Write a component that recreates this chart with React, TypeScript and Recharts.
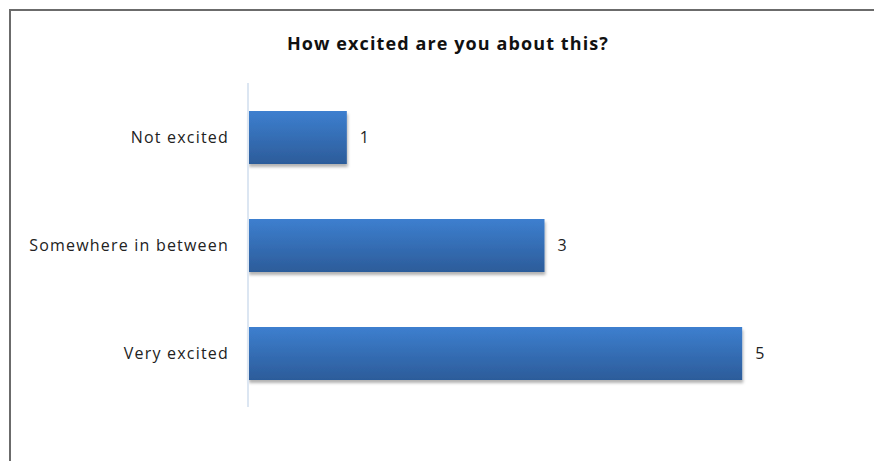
import React from "react";
import { BarChart, Bar, XAxis, YAxis, LabelList } from "recharts";

const categories = ["Not excited", "Somewhere in between", "Very excited"];
const counts = [1, 3, 5];

const data = categories.map((name, i) => ({ name, count: counts[i] }));

const FONT = "'Open Sans', 'DejaVu Sans', sans-serif";

export default function App() {
  return (
    <div
      style={{
        position: "fixed",
        left: 0,
        top: 0,
        width: 874,
        height: 461,
        overflow: "hidden",
        background: "#fff",
        fontFamily: FONT,
      }}
    >
      {/* outer frame, only top and left edges are visible */}
      <div
        style={{
          position: "absolute",
          left: 9,
          top: 9,
          width: 900,
          height: 500,
          borderLeft: "2px solid #6b6b6b",
          borderTop: "2px solid #6b6b6b",
        }}
      />
      <div
        style={{
          position: "absolute",
          left: 0,
          top: 31,
          width: 896,
          textAlign: "center",
          fontWeight: 700,
          fontSize: 18,
          letterSpacing: 1.1,
          color: "#111",
        }}
      >
        How excited are you about this?
      </div>
      <div style={{ position: "absolute", left: 0, top: 0 }}>
        <BarChart
          width={874}
          height={461}
          data={data}
          layout="vertical"
          margin={{ top: 83, right: 33, bottom: 54, left: 0 }}
        >
          <defs>
            <linearGradient id="barGrad" x1="0" y1="0" x2="0" y2="1">
              <stop offset="0%" stopColor="#3d7fcf" />
              <stop offset="100%" stopColor="#2c5c9a" />
            </linearGradient>
            <filter id="barShadow" x="-5%" y="-20%" width="115%" height="160%">
              <feDropShadow dx="1" dy="3" stdDeviation="1.5" floodColor="#000" floodOpacity="0.3" />
            </filter>
          </defs>
          <XAxis type="number" domain={[0, 6]} hide />
          <YAxis
            type="category"
            dataKey="name"
            width={248}
            axisLine={{ stroke: "#dce6f2", strokeWidth: 2 }}
            tickLine={false}
            tickMargin={13}
            tick={{ fill: "#222", fontSize: 16, letterSpacing: 1.2, fontFamily: FONT }}
          />
          <Bar
            dataKey="count"
            barSize={53}
            fill="url(#barGrad)"
            filter="url(#barShadow)"
            isAnimationActive={false}
          >
            <LabelList
              dataKey="count"
              position="right"
              offset={13}
              style={{ fill: "#222", fontSize: 16, fontFamily: FONT }}
            />
          </Bar>
        </BarChart>
      </div>
    </div>
  );
}
